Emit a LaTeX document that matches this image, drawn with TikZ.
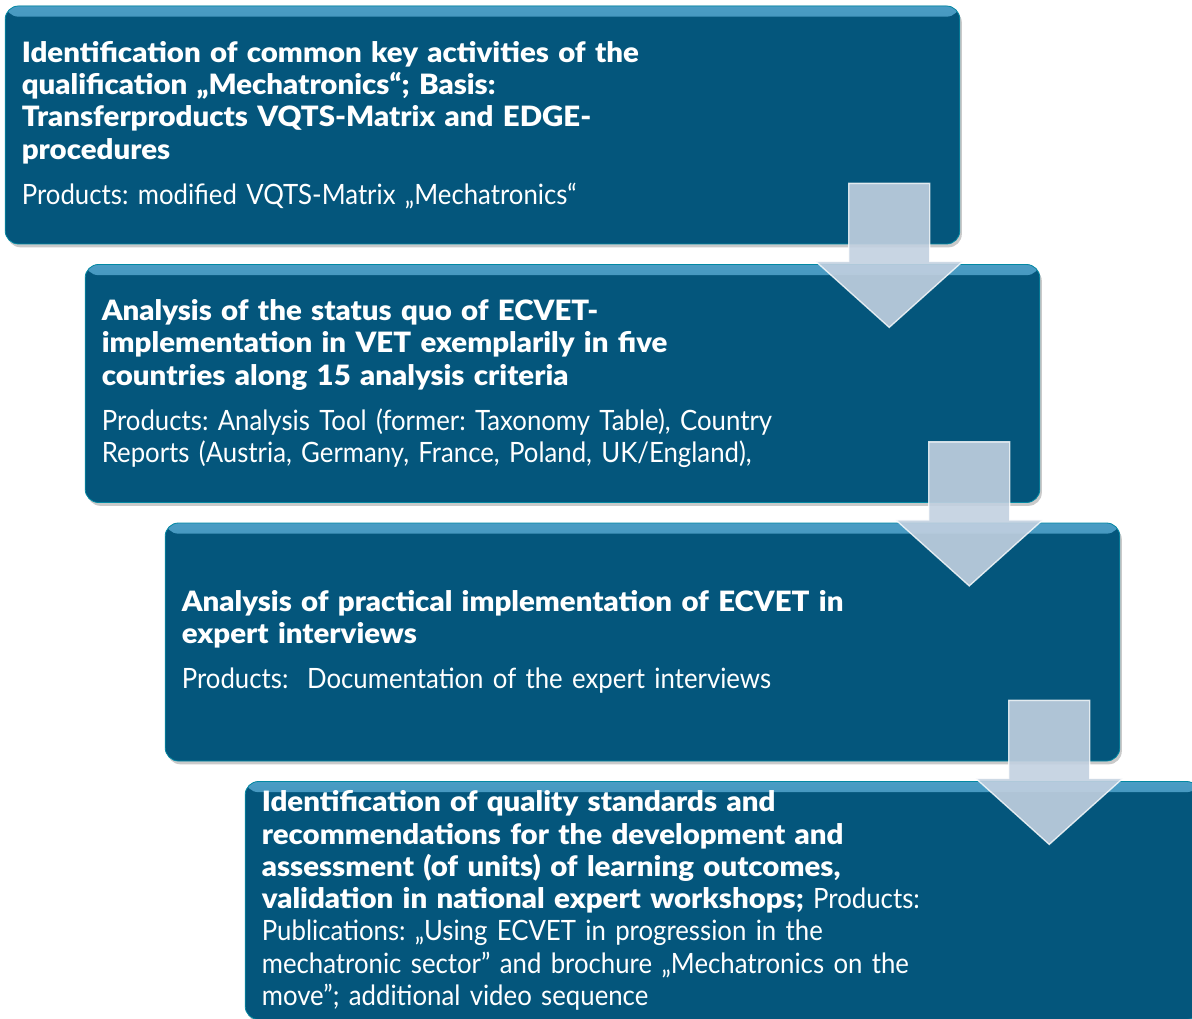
\documentclass[tikz,border=0pt]{standalone}
\usepackage{fontspec}
\newfontfamily\stepfont{Lato}[FakeStretch=0.92,BoldFont={Lato Black},BoldFeatures={FakeStretch=1.05}]
\usetikzlibrary{shadows}
\definecolor{boxblue}{HTML}{04567C}
\definecolor{boxgloss}{HTML}{4A9CC4}
\definecolor{arrowfill}{HTML}{C2D0E0}

\tikzset{
    stepbox/.style={rounded corners=10pt, fill=boxblue, draw=boxblue!70!cyan, line width=0.6pt,
        drop shadow={shadow xshift=1.5pt, shadow yshift=-2.5pt, opacity=0.35, fill=black!60},
        minimum width=716pt, minimum height=178.5pt, text width=691pt,
        inner xsep=12.5pt, inner ysep=0pt, align=left, text=white,
        font=\stepfont\fontsize{21}{24.2}\selectfont\frenchspacing,
        path picture={\shade[top color=boxgloss, bottom color=boxblue]
            (path picture bounding box.north west) rectangle ([yshift=-8pt]path picture bounding box.north east);}},
    steparrow/.style={fill=arrowfill, fill opacity=0.9, draw=white, draw opacity=0.8, line width=1pt}
}

\begin{document}
\begin{tikzpicture}[x=0.75pt,y=0.75pt,yscale=-1,xscale=1]
    \useasboundingbox (0,0) rectangle (1192,1019);
    \clip (0,0) rectangle (1192,1019);

    % Step 1
    \node[stepbox] (s1) at (482.5,125) {\bfseries Identification of common key activities of the\\
        qualification „Mechatronics“; Basis:\\
        Transferproducts VQTS-Matrix and EDGE-\\
        procedures\\[9.5pt]
        \mdseries Products: modified VQTS-Matrix „Mechatronics“};
    % Step 2
    \node[stepbox] (s2) at (562.5,383.5) {\bfseries Analysis of the status quo of ECVET-\\
        implementation in VET exemplarily in five\\
        countries along 15 analysis criteria\\[9.5pt]
        \mdseries Products: Analysis Tool (former: Taxonomy Table), Country\\
        Reports (Austria, Germany, France, Poland, UK/England),};
    % Step 3
    \node[stepbox] (s3) at (642.5,642) {\bfseries Analysis of practical implementation of ECVET in\\
        expert interviews\\[9.5pt]
        \mdseries Products:\ \ Documentation of the expert interviews};
    % Step 4
    \node[stepbox] (s4) at (722.5,900.5) {\bfseries Identification of quality standards and\\
        recommendations for the development and\\
        assessment (of units) of learning outcomes,\\
        validation in national expert workshops; \mdseries Products:\\
        Publications: „Using ECVET in progression in the\\
        mechatronic sector” and brochure „Mechatronics on the\\
        move”; additional video sequence};

    % Arrows
    \draw[steparrow, shift={([xshift=-53.25pt,yshift=-45.75pt]s1.south east)}] (-40.5,0) -- (40.5,0) -- (40.5,78) -- (73.5,78) -- (0,144) -- (-73.5,78) -- (-40.5,78) -- cycle;
    \draw[steparrow, shift={([xshift=-53.25pt,yshift=-45.75pt]s2.south east)}] (-40.5,0) -- (40.5,0) -- (40.5,78) -- (73.5,78) -- (0,144) -- (-73.5,78) -- (-40.5,78) -- cycle;
    \draw[steparrow, shift={([xshift=-53.25pt,yshift=-45.75pt]s3.south east)}] (-40.5,0) -- (40.5,0) -- (40.5,78) -- (73.5,78) -- (0,144) -- (-73.5,78) -- (-40.5,78) -- cycle;
\end{tikzpicture}
\end{document}
